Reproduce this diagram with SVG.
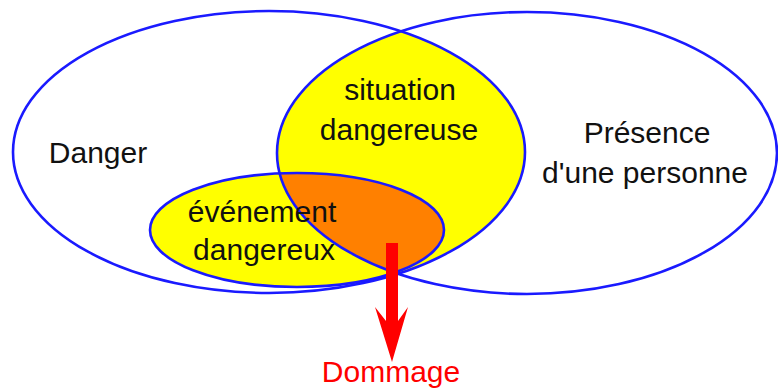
<svg xmlns="http://www.w3.org/2000/svg" width="778" height="389" viewBox="0 0 778 389">
<style>
.o{fill:none;stroke:#1a1aff;stroke-width:2.6}
.t{font-family:"Liberation Sans",Arial,sans-serif;font-size:30px;fill:#111;text-anchor:middle}
</style>
<defs>
<clipPath id="cR"><ellipse cx="527" cy="153" rx="250" ry="141"/></clipPath>
</defs>
<rect width="778" height="389" fill="#fff"/>
<g id="danger">
<ellipse cx="269" cy="152" rx="256" ry="141" fill="#fff"/>
</g>
<g id="presence">
<ellipse cx="527" cy="153" rx="250" ry="141" fill="none"/>
</g>
<g id="situation">
<ellipse cx="269" cy="152" rx="256" ry="141" fill="#ffff00" clip-path="url(#cR)"/>
</g>
<g id="evenement">
<ellipse cx="297" cy="230" rx="147" ry="57" fill="#ffff00"/>
<ellipse cx="297" cy="230" rx="147" ry="57" fill="#ff8000" clip-path="url(#cR)"/>
</g>
<g id="outlines">
<ellipse class="o" cx="269" cy="152" rx="256" ry="141"/>
<ellipse class="o" cx="527" cy="153" rx="250" ry="141"/>
<ellipse class="o" cx="297" cy="230" rx="147" ry="57"/>
</g>
<g id="labels">
<text class="t" x="98" y="163">Danger</text>
<text class="t" x="400" y="100">situation</text>
<text class="t" x="399" y="140">dangereuse</text>
<text class="t" x="647" y="143">Présence</text>
<text class="t" x="645" y="183">d'une personne</text>
<text class="t" x="262" y="222">événement</text>
<text class="t" x="264" y="260">dangereux</text>
</g>
<g id="connectors">
<path d="M386 243 H398 V321 L408 307 L392 362 L375 307 L386 321 Z" fill="#ff0000"/>
</g>
<g id="dommage">
<text class="t" x="391" y="382" style="fill:#ff0000">Dommage</text>
</g>
</svg>
